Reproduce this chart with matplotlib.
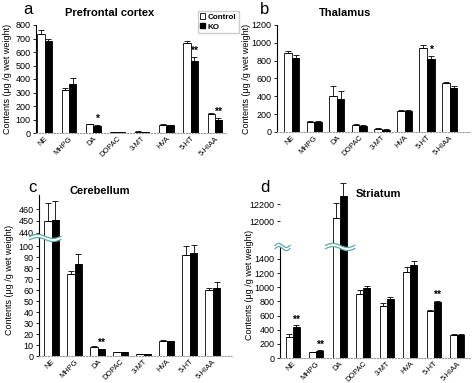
import numpy as np
import matplotlib
matplotlib.use('Agg')
import matplotlib.pyplot as plt
from matplotlib.patches import Patch
from matplotlib.lines import Line2D
from matplotlib.transforms import blended_transform_factory, IdentityTransform

plt.rcParams['font.family'] = ['Liberation Sans', 'DejaVu Sans']

compounds = ["NE", "MHPG", "DA", "DOPAC", "3-MT", "HVA", "5-HT", "5-HIAA"]

# a: prefrontal cortex
pfc_ctrl = [735, 322, 65, 5, 10, 62, 665, 140]
pfc_ctrl_err = [25, 15, 4, 1, 2, 4, 20, 5]
pfc_ko = [680, 365, 55, 5, 8, 57, 535, 100]
pfc_ko_err = [20, 40, 5, 1, 2, 4, 25, 10]
pfc_sig = ["", "", "*", "", "", "", "**", "**"]

# b: thalamus
tha_ctrl = [885, 115, 405, 80, 35, 230, 945, 555]
tha_ctrl_err = [25, 5, 110, 10, 5, 15, 30, 10]
tha_ko = [835, 115, 375, 70, 28, 235, 820, 495]
tha_ko_err = [30, 5, 90, 5, 4, 10, 35, 20]
tha_sig = ["", "", "", "", "", "", "*", ""]

# c: cerebellum
cer_ctrl = [450, 75, 8.5, 3.5, 2.0, 14, 92, 60]
cer_ctrl_err = [15, 2, 0.5, 0.3, 0.2, 0.5, 8, 2]
cer_ko = [451, 84, 6, 3.5, 1.8, 13.5, 94, 62]
cer_ko_err = [16, 9, 0.5, 0.3, 0.2, 0.5, 7, 5]
cer_sig = ["", "", "**", "", "", "", "", ""]

# d: striatum
str_ctrl = [300, 80, 12030, 900, 730, 1220, 660, 325]
str_ctrl_err = [40, 5, 180, 60, 40, 60, 20, 10]
str_ko = [440, 100, 12290, 985, 830, 1320, 790, 330]
str_ko_err = [25, 8, 160, 30, 30, 50, 15, 10]
str_sig = ["**", "**", "", "", "", "", "**", ""]

W, H = 474, 383
fig = plt.figure(figsize=(W / 100, H / 100), dpi=100)


def ax_px(x0, y0, x1, y1):
    return fig.add_axes([x0 / W, 1 - y1 / H, (x1 - x0) / W, (y1 - y0) / H])


def fig_text(x, y, s, **kw):
    fig.text(x / W, 1 - y / H, s, ha="center", va="center", **kw)


def style(ax, bottom=True, left=True):
    for s in ["top", "right"]:
        ax.spines[s].set_visible(False)
    ax.spines["left"].set_linewidth(0.8)
    ax.spines["left"].set_visible(left)
    if bottom:
        ax.spines["bottom"].set_linestyle(":")
        ax.spines["bottom"].set_color("#999999")
        ax.spines["bottom"].set_linewidth(0.8)
    else:
        ax.spines["bottom"].set_visible(False)
    ax.tick_params(axis="y", labelsize=6.5, length=2.5, width=0.6, pad=1.5)
    ax.tick_params(axis="x", length=0, pad=1.5)


def draw_bars(ax, ctrl, ko, w):
    x = np.arange(len(compounds))
    ax.bar(x - w / 2, ctrl, w, color="white", edgecolor="black", linewidth=0.6)
    ax.bar(x + w / 2, ko, w, color="black", edgecolor="black", linewidth=0.6)
    return x


def draw_err(ax, xs, vals, errs):
    for xi, v, e in zip(xs, vals, errs):
        ax.errorbar(xi, v, yerr=[[0], [e]], fmt="none", ecolor="black",
                    elinewidth=0.6, capsize=2, capthick=0.6, clip_on=False)


def draw_sig(ax, xs, vals, errs, sig, off):
    for xi, v, e, s in zip(xs, vals, errs, sig):
        if s:
            ax.text(xi, v + e + off, s, ha="center", va="bottom",
                    fontsize=7.5, fontweight="bold", clip_on=False)


def xlabels(ax):
    ax.set_xticks(np.arange(len(compounds)))
    ax.set_xticklabels(compounds, rotation=45, ha="right",
                       rotation_mode="anchor", fontsize=5.4)


def wave(ax, x0, x1, color="#5fa8a8"):
    tr = blended_transform_factory(ax.transData, ax.transAxes)
    xs = np.linspace(x0, x1, 60)
    pts = tr.transform(np.column_stack([xs, np.ones_like(xs)]))
    px = pts[:, 0]
    t = (px - px[0]) / (px[-1] - px[0])
    py = pts[:, 1] + 2.0 * np.sin(t * 2 * np.pi)
    fig.patches.append(plt.Polygon(
        np.vstack([np.column_stack([px, py + 1.6]),
                   np.column_stack([px[::-1], py[::-1] - 1.6])]),
        closed=True, facecolor="white", edgecolor="none",
        transform=IdentityTransform(), zorder=5))
    for d in (1.6, -1.6):
        fig.lines.append(Line2D(px, py + d, color=color, lw=0.9,
                                transform=IdentityTransform(), zorder=6))


ylab = "Contents (\u03bcg /g wet weight)"
tkw = dict(fontsize=8, fontweight="bold")

# ---- panel a
ax = ax_px(36, 25, 227, 133)
style(ax)
w = 0.3
x = draw_bars(ax, pfc_ctrl, pfc_ko, w)
draw_err(ax, x - w / 2, pfc_ctrl, pfc_ctrl_err)
draw_err(ax, x + w / 2, pfc_ko, pfc_ko_err)
draw_sig(ax, x + w / 2, pfc_ko, pfc_ko_err, pfc_sig, 8)
ax.set_xlim(-0.36, 7.5)
ax.set_ylim(0, 800)
ax.set_yticks(range(0, 801, 100))
xlabels(ax)
fig_text(110, 13, "Prefrontal cortex", **tkw)
fig_text(8, 79, ylab, rotation=90, fontsize=6.5)
fig_text(28, 10, "a", fontsize=12)
fig.legend(handles=[Patch(facecolor="white", edgecolor="black", lw=0.6, label="Control"),
                    Patch(facecolor="black", edgecolor="black", label="KO")],
           loc="upper left", bbox_to_anchor=(194 / W, 1 - 7 / H),
           prop={"size": 5.8, "weight": "bold"}, handlelength=0.6, handleheight=0.6,
           handletextpad=0.3, borderpad=0.3, labelspacing=0.3,
           fancybox=False, edgecolor="#cccccc", framealpha=1)

# ---- panel b
ax = ax_px(277, 25, 470, 132)
style(ax)
w = 0.34
x = draw_bars(ax, tha_ctrl, tha_ko, w)
draw_err(ax, x - w / 2, tha_ctrl, tha_ctrl_err)
draw_err(ax, x + w / 2, tha_ko, tha_ko_err)
draw_sig(ax, x + w / 2, tha_ko, tha_ko_err, tha_sig, 10)
ax.set_xlim(-0.65, 7.9)
ax.set_ylim(0, 1200)
ax.set_yticks(range(0, 1201, 200))
xlabels(ax)
fig_text(345, 13, "Thalamus", **tkw)
fig_text(247, 79, ylab, rotation=90, fontsize=6.5)
fig_text(265, 10, "b", fontsize=12)

# ---- panel c (broken axis)
w = 0.33
axl = ax_px(39, 238, 233, 356)
axu = ax_px(39, 195, 233, 238)
style(axl)
style(axu, bottom=False)
for a in (axl, axu):
    draw_bars(a, cer_ctrl, cer_ko, w)
    a.set_xlim(-0.55, 7.88)
axl.set_ylim(0, 107.3)
axu.set_ylim(435.8, 471.7)
axl.set_yticks(range(0, 101, 10))
axu.set_yticks([440, 450, 460])
axu.set_xticks([])
x = np.arange(len(compounds))
for xs, vals, errs in ((x - w / 2, cer_ctrl, cer_ctrl_err), (x + w / 2, cer_ko, cer_ko_err)):
    for xi, v, e in zip(xs, vals, errs):
        draw_err(axu if v > 107 else axl, [xi], [v], [e])
draw_sig(axl, x + w / 2, cer_ko, cer_ko_err, cer_sig, 0.5)
xlabels(axl)
fig_text(100, 191, "Cerebellum", **tkw)
fig_text(10, 280, ylab, rotation=90, fontsize=6.5)
fig_text(32, 188, "c", fontsize=12)
wave(axl, -0.95, 0.4)

# ---- panel d (broken axis)
w = 0.3
axl = ax_px(280, 247, 470, 358)
axu = ax_px(280, 186, 470, 247)
style(axl)
style(axu, bottom=False, left=False)
for a in (axl, axu):
    draw_bars(a, str_ctrl, str_ko, w)
    a.set_xlim(-0.54, 7.55)
axl.set_ylim(0, 1568)
axu.set_ylim(11694, 12412)
axl.set_yticks(range(0, 1401, 200))
axu.set_yticks([12000, 12200])
axu.set_xticks([])
x = np.arange(len(compounds))
for xs, vals, errs in ((x - w / 2, str_ctrl, str_ctrl_err), (x + w / 2, str_ko, str_ko_err)):
    for xi, v, e in zip(xs, vals, errs):
        draw_err(axu if v > 1568 else axl, [xi], [v], [e])
draw_sig(axl, x + w / 2, str_ko, str_ko_err, str_sig, 10)
xlabels(axl)
fig_text(378, 194, "Striatum", **tkw)
fig_text(249, 285, ylab, rotation=90, fontsize=6.5)
fig_text(265, 187, "d", fontsize=12)
wave(axl, -0.75, -0.11)
wave(axl, 1.4, 2.65)

fig.savefig("out.png", dpi=100)
